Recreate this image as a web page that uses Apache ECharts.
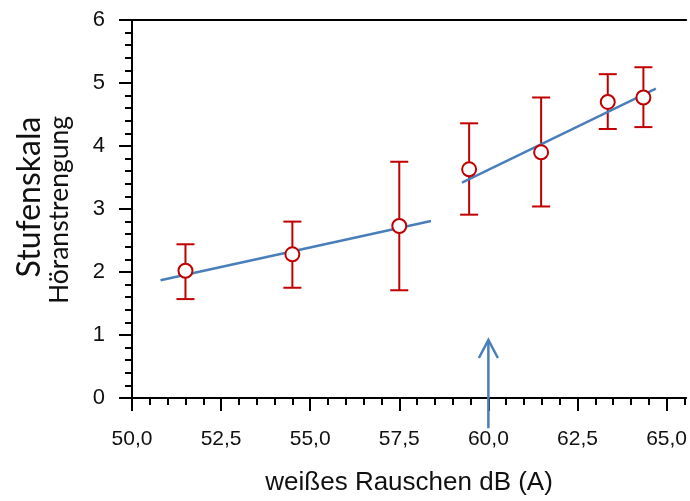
<!DOCTYPE html>
<html>
<head>
<meta charset="utf-8">
<script src="https://cdn.jsdelivr.net/npm/echarts@6/dist/echarts.min.js"></script>
<style>html,body{margin:0;padding:0;background:#fff}#c{width:690px;height:501px}</style>
</head>
<body>
<div id="c"></div>
<script>
// Data
var xValues   = [51.5, 54.5, 57.5, 59.46, 61.48, 63.35, 64.35];
var yMeans    = [2.02, 2.28, 2.73, 3.63, 3.90, 4.70, 4.77];
var yLow      = [1.57, 1.75, 1.71, 2.91, 3.04, 4.27, 4.30];
var yHigh     = [2.44, 2.80, 3.75, 4.36, 4.77, 5.14, 5.25];
var fitLow    = [[50.8, 1.87], [58.39, 2.81]];
var fitHigh   = [[59.26, 3.42], [64.7, 4.91]];
var arrow     = [60.0, -0.48, 0.92];
var xTicks    = [50, 52.5, 55, 57.5, 60, 62.5, 65];
var yTicks    = [0, 1, 2, 3, 4, 5, 6];

var RED = '#c00000', BLUE = '#4a7ebb';
var FONT = '"Liberation Sans", Arial, sans-serif';

var points = xValues.map(function (x, i) { return [x, yMeans[i]]; });
var bars = xValues.map(function (x, i) { return [x, yLow[i], yHigh[i]]; });

var chart = echarts.init(document.getElementById('c'), null, {renderer: 'canvas'});
chart.setOption({
  animation: false,
  backgroundColor: '#fff',
  grid: {left: 132, right: 2, top: 20, bottom: 97, containLabel: false},
  xAxis: [{
    type: 'value', min: 50, max: 65.55, interval: 2.5,
    position: 'bottom',
    splitLine: {show: false},
    axisLine: {show: true, onZero: false, lineStyle: {color: '#000', width: 2}},
    axisTick: {show: true, length: 13, lineStyle: {color: '#000', width: 2}, customValues: xTicks},
    minorTick: {show: true, splitNumber: 5, length: 7, lineStyle: {color: '#000', width: 2}},
    axisLabel: {
      customValues: xTicks, margin: 31, color: '#111', fontSize: 21, fontFamily: FONT,
      formatter: function (v) { return v.toFixed(1).replace('.', ','); }
    },
    name: 'weißes Rauschen dB (A)', nameLocation: 'middle', nameGap: 72,
    nameTextStyle: {fontSize: 26, fontFamily: FONT, color: '#111'}
  }, {
    type: 'value', min: 50, max: 65.55, position: 'top',
    splitLine: {show: false},
    axisLine: {show: true, onZero: false, lineStyle: {color: '#000', width: 2}},
    axisTick: {show: false}, axisLabel: {show: false}
  }],
  yAxis: {
    type: 'value', min: 0, max: 6, interval: 1,
    splitLine: {show: false},
    axisLine: {show: true, onZero: false, lineStyle: {color: '#000', width: 2}},
    axisTick: {show: true, length: 13, lineStyle: {color: '#000', width: 2}},
    minorTick: {show: true, splitNumber: 5, length: 7, lineStyle: {color: '#000', width: 2}},
    axisLabel: {
      margin: 27, color: '#111', fontSize: 22, fontFamily: FONT,
      formatter: function (v) { return yTicks.indexOf(v) >= 0 ? String(v) : ''; }
    }
  },
  graphic: [
    {type: 'text', x: 30, y: 197, rotation: Math.PI / 2,
     style: {text: 'Stufenskala', font: '32px Lato, "Noto Sans", sans-serif', fill: '#111', align: 'center', verticalAlign: 'middle'}},
    {type: 'text', x: 59, y: 210, rotation: Math.PI / 2,
     style: {text: 'Höranstrengung', font: '26.5px Lato, "Noto Sans", sans-serif', fill: '#111', align: 'center', verticalAlign: 'middle'}}
  ],
  series: [
    {type: 'line', data: fitLow, symbol: 'none', lineStyle: {color: BLUE, width: 2.5}, z: 3},
    {type: 'line', data: fitHigh, symbol: 'none', lineStyle: {color: BLUE, width: 2.5}, z: 3},
    {
      type: 'custom', data: bars, z: 2,
      renderItem: function (params, api) {
        var x = api.value(0);
        var lo = api.coord([x, api.value(1)]);
        var hi = api.coord([x, api.value(2)]);
        var hw = 9;
        var st = {stroke: RED, lineWidth: 2, fill: null};
        return {type: 'group', children: [
          {type: 'line', shape: {x1: lo[0], y1: lo[1], x2: hi[0], y2: hi[1]}, style: st},
          {type: 'line', shape: {x1: lo[0] - hw, y1: lo[1], x2: lo[0] + hw, y2: lo[1]}, style: st},
          {type: 'line', shape: {x1: hi[0] - hw, y1: hi[1], x2: hi[0] + hw, y2: hi[1]}, style: st}
        ]};
      }
    },
    {
      type: 'scatter', data: points, symbol: 'circle', symbolSize: 14, z: 4,
      itemStyle: {color: '#fff', borderColor: RED, borderWidth: 2, opacity: 1}
    },
    {
      type: 'custom', data: [arrow], clip: false, z: 5,
      renderItem: function (params, api) {
        var x = api.value(0);
        var b = api.coord([x, api.value(1)]);
        var t = api.coord([x, api.value(2)]);
        var st = {stroke: BLUE, lineWidth: 2.5, fill: null};
        return {type: 'group', children: [
          {type: 'line', shape: {x1: b[0], y1: b[1], x2: t[0], y2: t[1]}, style: st},
          {type: 'polyline', shape: {points: [[t[0] - 9.5, t[1] + 18], [t[0], t[1]], [t[0] + 9.5, t[1] + 18]]}, style: st}
        ]};
      }
    }
  ]
});
</script>
</body>
</html>
